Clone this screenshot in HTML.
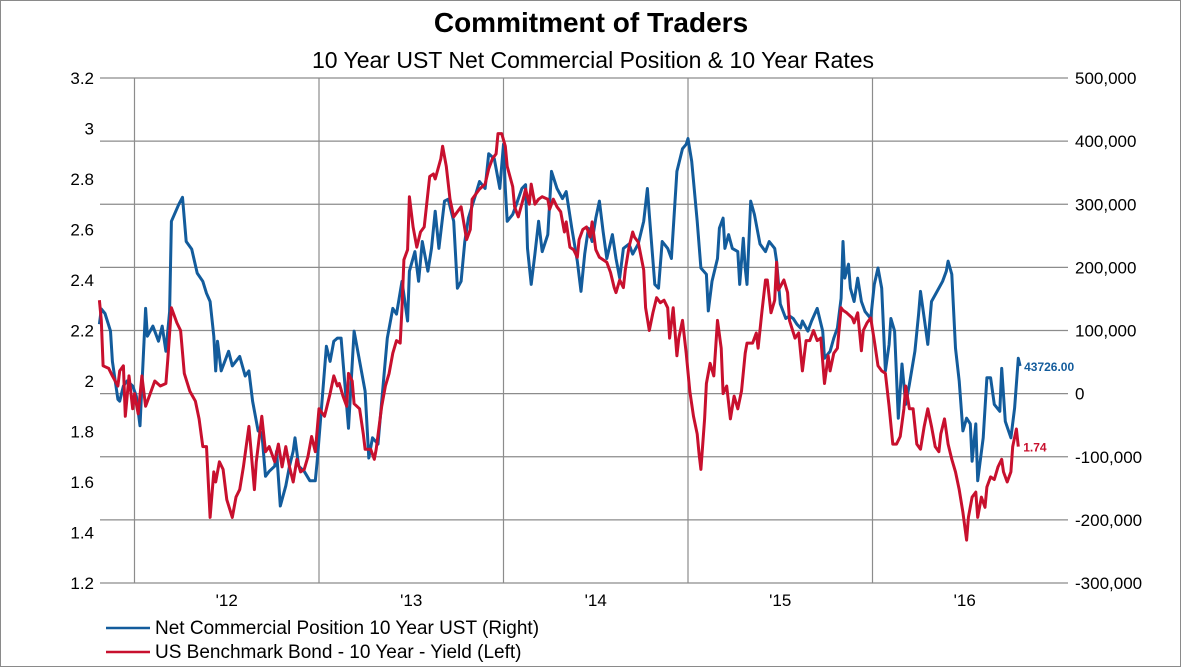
<!DOCTYPE html>
<html><head><meta charset="utf-8">
<style>
html,body{margin:0;padding:0;background:#fff;}
body{width:1181px;height:667px;overflow:hidden;font-family:"Liberation Sans",Arial,sans-serif;}
svg{display:block;}
</style></head>
<body>
<svg id="chart" width="1181" height="667" viewBox="0 0 1181 667" xmlns="http://www.w3.org/2000/svg">
<rect x="0.5" y="0.5" width="1180" height="666" fill="#fff" stroke="#8a8a8a" stroke-width="1"/>
<text x="591" y="32" text-anchor="middle" font-size="28" font-weight="bold" fill="#000">Commitment of Traders</text>
<text x="593" y="68" text-anchor="middle" font-size="23" fill="#000">10 Year UST Net Commercial Position &amp; 10 Year Rates</text>
<g id="grid"></g>
<g id="leftAxis"></g>
<g id="rightAxis"></g>
<g id="xAxis"></g>
<g id="series"></g>
<g>
<line x1="106" y1="628" x2="150" y2="628" stroke="#135c9c" stroke-width="2.6"/>
<text x="155" y="634" font-size="19" fill="#000">Net Commercial Position 10 Year UST  (Right)</text>
<line x1="106" y1="652" x2="150" y2="652" stroke="#c8102e" stroke-width="2.6"/>
<text x="155" y="658" font-size="19" fill="#000">US Benchmark Bond - 10 Year - Yield  (Left)</text>
</g>
</svg>
<script>
const leftTicks=[1.2,1.4,1.6,1.8,2,2.2,2.4,2.6,2.8,3,3.2];
const rightTicks=[-300000,-200000,-100000,0,100000,200000,300000,400000,500000];
const yearTicks=[2012,2013,2014,2015,2016];
const yearLabels=["'12","'13","'14","'15","'16"];
const redDates=[2011.81,2011.82,2011.83,2011.86,2011.88,2011.91,2011.92,2011.94,2011.95,2011.97,2011.99,2012.00,2012.02,2012.04,2012.06,2012.08,2012.11,2012.14,2012.17,2012.18,2012.20,2012.23,2012.25,2012.27,2012.30,2012.33,2012.35,2012.37,2012.39,2012.41,2012.43,2012.44,2012.46,2012.48,2012.50,2012.53,2012.55,2012.57,2012.59,2012.62,2012.63,2012.65,2012.66,2012.69,2012.71,2012.73,2012.76,2012.78,2012.80,2012.82,2012.84,2012.86,2012.88,2012.90,2012.92,2012.94,2012.96,2012.98,2013.00,2013.03,2013.04,2013.06,2013.08,2013.10,2013.11,2013.13,2013.15,2013.16,2013.18,2013.19,2013.22,2013.24,2013.25,2013.28,2013.30,2013.31,2013.34,2013.36,2013.38,2013.40,2013.42,2013.44,2013.45,2013.46,2013.48,2013.49,2013.51,2013.53,2013.55,2013.57,2013.60,2013.62,2013.63,2013.66,2013.67,2013.69,2013.71,2013.73,2013.75,2013.77,2013.80,2013.82,2013.83,2013.85,2013.87,2013.90,2013.92,2013.94,2013.96,2013.97,2013.99,2014.01,2014.02,2014.05,2014.06,2014.08,2014.11,2014.12,2014.14,2014.15,2014.17,2014.19,2014.21,2014.24,2014.25,2014.27,2014.29,2014.31,2014.33,2014.34,2014.36,2014.38,2014.40,2014.41,2014.43,2014.45,2014.47,2014.48,2014.50,2014.52,2014.54,2014.56,2014.58,2014.60,2014.61,2014.63,2014.65,2014.66,2014.68,2014.70,2014.71,2014.73,2014.76,2014.77,2014.79,2014.81,2014.83,2014.85,2014.87,2014.89,2014.90,2014.92,2014.94,2014.95,2014.97,2014.99,2015.01,2015.03,2015.05,2015.06,2015.07,2015.09,2015.10,2015.12,2015.14,2015.16,2015.18,2015.19,2015.21,2015.23,2015.25,2015.27,2015.29,2015.31,2015.32,2015.35,2015.37,2015.38,2015.40,2015.42,2015.43,2015.45,2015.47,2015.48,2015.49,2015.52,2015.54,2015.55,2015.58,2015.60,2015.62,2015.64,2015.66,2015.68,2015.70,2015.72,2015.74,2015.76,2015.77,2015.79,2015.81,2015.83,2015.84,2015.86,2015.89,2015.90,2015.92,2015.94,2015.95,2015.97,2015.99,2016.01,2016.03,2016.05,2016.07,2016.09,2016.11,2016.13,2016.15,2016.17,2016.18,2016.20,2016.22,2016.24,2016.26,2016.28,2016.30,2016.32,2016.34,2016.36,2016.37,2016.39,2016.41,2016.43,2016.45,2016.47,2016.49,2016.51,2016.52,2016.54,2016.56,2016.57,2016.59,2016.61,2016.62,2016.64,2016.66,2016.68,2016.70,2016.71,2016.73,2016.75,2016.76,2016.78,2016.79];
const redYield=[2.32,2.24,2.06,2.05,2.02,1.98,2.04,2.06,1.86,2.02,1.89,1.95,1.87,2.02,1.90,1.94,2.00,1.98,1.99,2.08,2.29,2.23,2.20,2.03,1.96,1.92,1.85,1.74,1.74,1.46,1.64,1.60,1.68,1.65,1.53,1.46,1.54,1.57,1.66,1.82,1.74,1.57,1.68,1.86,1.72,1.74,1.68,1.75,1.66,1.74,1.66,1.60,1.69,1.64,1.65,1.70,1.78,1.72,1.89,1.86,1.89,1.95,2.02,1.98,1.99,1.94,1.90,2.03,2.00,1.91,1.89,1.79,1.73,1.73,1.69,1.73,1.90,1.98,2.03,2.11,2.16,2.15,2.29,2.48,2.52,2.73,2.61,2.53,2.59,2.61,2.81,2.82,2.80,2.88,2.93,2.85,2.72,2.65,2.67,2.69,2.56,2.60,2.72,2.74,2.76,2.78,2.84,2.88,2.90,2.98,2.98,2.93,2.85,2.77,2.69,2.65,2.73,2.76,2.70,2.78,2.70,2.72,2.73,2.72,2.68,2.72,2.69,2.67,2.59,2.63,2.53,2.52,2.49,2.56,2.60,2.61,2.57,2.63,2.52,2.49,2.48,2.47,2.43,2.37,2.35,2.40,2.37,2.44,2.53,2.59,2.57,2.55,2.44,2.29,2.20,2.27,2.33,2.31,2.32,2.29,2.17,2.29,2.10,2.17,2.24,2.11,1.96,1.86,1.79,1.71,1.65,1.85,1.99,2.07,2.02,2.24,2.13,1.95,1.98,1.85,1.94,1.89,1.96,2.11,2.15,2.15,2.19,2.13,2.27,2.40,2.40,2.27,2.32,2.47,2.36,2.40,2.35,2.24,2.17,2.19,2.04,2.16,2.16,2.20,2.16,2.17,1.99,2.10,2.04,2.11,2.13,2.29,2.28,2.27,2.25,2.23,2.27,2.12,2.20,2.23,2.25,2.16,2.06,2.04,2.03,1.90,1.75,1.75,1.78,1.89,1.98,1.89,1.89,1.75,1.73,1.82,1.89,1.82,1.74,1.72,1.79,1.85,1.75,1.69,1.64,1.57,1.48,1.37,1.46,1.54,1.56,1.46,1.54,1.50,1.58,1.62,1.61,1.66,1.69,1.64,1.60,1.64,1.74,1.81,1.74];
const blueDates=[2011.81,2011.82,2011.84,2011.87,2011.88,2011.91,2011.92,2011.94,2011.96,2011.99,2012.01,2012.03,2012.06,2012.07,2012.10,2012.13,2012.15,2012.17,2012.19,2012.20,2012.24,2012.26,2012.28,2012.31,2012.34,2012.37,2012.39,2012.41,2012.43,2012.44,2012.45,2012.47,2012.51,2012.53,2012.57,2012.60,2012.62,2012.64,2012.67,2012.69,2012.71,2012.73,2012.76,2012.77,2012.79,2012.82,2012.84,2012.86,2012.87,2012.89,2012.92,2012.95,2012.98,2012.99,2013.01,2013.04,2013.06,2013.08,2013.10,2013.12,2013.16,2013.19,2013.25,2013.27,2013.29,2013.32,2013.34,2013.37,2013.40,2013.42,2013.45,2013.48,2013.49,2013.52,2013.54,2013.56,2013.59,2013.61,2013.63,2013.65,2013.68,2013.70,2013.73,2013.75,2013.77,2013.79,2013.81,2013.85,2013.87,2013.90,2013.92,2013.95,2013.98,2014.00,2014.01,2014.02,2014.05,2014.07,2014.10,2014.12,2014.13,2014.15,2014.17,2014.19,2014.21,2014.24,2014.26,2014.29,2014.32,2014.34,2014.37,2014.40,2014.42,2014.44,2014.46,2014.48,2014.50,2014.52,2014.54,2014.56,2014.59,2014.61,2014.63,2014.65,2014.68,2014.70,2014.73,2014.76,2014.78,2014.79,2014.82,2014.84,2014.86,2014.89,2014.91,2014.94,2014.97,2014.99,2015.00,2015.02,2015.05,2015.07,2015.10,2015.11,2015.13,2015.16,2015.17,2015.19,2015.20,2015.22,2015.24,2015.27,2015.28,2015.30,2015.31,2015.32,2015.34,2015.36,2015.39,2015.42,2015.44,2015.47,2015.48,2015.50,2015.53,2015.55,2015.57,2015.59,2015.61,2015.62,2015.65,2015.67,2015.70,2015.73,2015.74,2015.77,2015.79,2015.81,2015.83,2015.84,2015.85,2015.87,2015.88,2015.90,2015.92,2015.94,2015.96,2015.99,2016.01,2016.03,2016.05,2016.07,2016.09,2016.10,2016.12,2016.14,2016.16,2016.18,2016.20,2016.23,2016.25,2016.26,2016.29,2016.30,2016.32,2016.35,2016.38,2016.40,2016.41,2016.43,2016.45,2016.47,2016.49,2016.51,2016.53,2016.54,2016.56,2016.57,2016.60,2016.62,2016.64,2016.66,2016.69,2016.70,2016.72,2016.75,2016.77,2016.79,2016.80];
const bluePosition=[110,134,127,99,51,-9,-12,12,20,12,-4,-51,135,91,107,83,107,67,130,273,300,311,241,229,191,178,159,146,91,36,83,36,67,44,59,28,36,-12,-59,-62,-131,-123,-115,-91,-178,-146,-115,-91,-70,-115,-123,-138,-138,-107,-36,75,51,83,88,88,-55,99,4,-102,-70,-80,-12,88,135,126,178,115,194,225,178,241,194,230,289,230,305,308,273,167,178,241,278,316,336,325,380,372,325,395,325,273,284,300,325,331,230,173,221,273,225,252,352,325,309,320,262,210,162,221,262,241,278,305,257,214,252,214,183,230,237,221,237,273,325,284,173,167,241,230,214,352,388,395,404,368,273,199,189,131,178,214,262,278,230,252,230,225,173,246,199,173,305,284,237,225,241,230,210,142,119,123,119,110,104,115,99,115,135,99,56,67,88,104,151,241,183,205,167,146,183,146,130,119,173,199,167,36,78,119,99,-39,47,-17,15,67,126,162,99,78,146,162,178,194,210,189,72,20,-59,-39,-48,-107,-48,-138,-70,25,25,-17,-28,40,-44,-70,-23,56,43.726];
const blueLastLabel="43726.00";
const redLastLabel="1.74";

const NS="http://www.w3.org/2000/svg";
const plotL=100, plotR=1068, plotT=78, plotB=583;
const xOf=t=>134.5+(t-2012)*184.5;
const yLeft=v=>plotB-(v-1.2)/(3.2-1.2)*(plotB-plotT);
const yRight=v=>plotB-(v+300000)/800000*(plotB-plotT);
function mk(tag,attrs,parent){const e=document.createElementNS(NS,tag);for(const k in attrs)e.setAttribute(k,attrs[k]);parent.appendChild(e);return e;}
const grid=document.getElementById('grid');
rightTicks.forEach(v=>{
  const l=mk('line',{x1:plotL,x2:plotR,y1:yRight(v),y2:yRight(v),stroke:'#8c8c8c','stroke-width':1.2},grid);
  
  
  const t=mk('text',{x:1075,y:yRight(v)+6,'font-size':17,fill:'#000'},document.getElementById('rightAxis'));
  t.textContent=v.toLocaleString('en-US');
  
  
});
yearTicks.forEach((yr,i)=>{
  const l=mk('line',{x1:xOf(yr),x2:xOf(yr),y1:plotT,y2:plotB,stroke:'#8c8c8c','stroke-width':1.2},grid);
  
  
  const t=mk('text',{x:xOf(yr+0.5),y:606,'text-anchor':'middle','font-size':17,fill:'#000'},document.getElementById('xAxis'));
  t.textContent=yearLabels[i];
  
  
});
leftTicks.forEach(v=>{
  const t=mk('text',{x:94,y:yLeft(v)+6,'text-anchor':'end','font-size':17,fill:'#000'},document.getElementById('leftAxis'));
  t.textContent=String(v);
  
  
});
const ser=document.getElementById('series');
const bp=bluePosition.map((v,i)=>xOf(blueDates[i]).toFixed(1)+','+yRight(v*1000).toFixed(1)).join(' ');
const b=mk('polyline',{points:bp,fill:'none',stroke:'#135c9c','stroke-width':3,'stroke-linejoin':'round'},ser);


const rp=redYield.map((v,i)=>xOf(redDates[i]).toFixed(1)+','+yLeft(v).toFixed(1)).join(' ');
const r=mk('polyline',{points:rp,fill:'none',stroke:'#c8102e','stroke-width':3,'stroke-linejoin':'round'},ser);


const bl=blueDates.length-1, rl=redDates.length-1;
const bt=mk('text',{x:xOf(blueDates[bl])+4,y:yRight(bluePosition[bl]*1000)+5,'font-size':12,'font-weight':'bold',fill:'#135c9c'},ser);
bt.textContent=blueLastLabel;


const rt=mk('text',{x:xOf(redDates[rl])+5,y:yLeft(redYield[rl])+5,'font-size':12,'font-weight':'bold',fill:'#c8102e'},ser);
rt.textContent=redLastLabel;


</script>
</body></html>
